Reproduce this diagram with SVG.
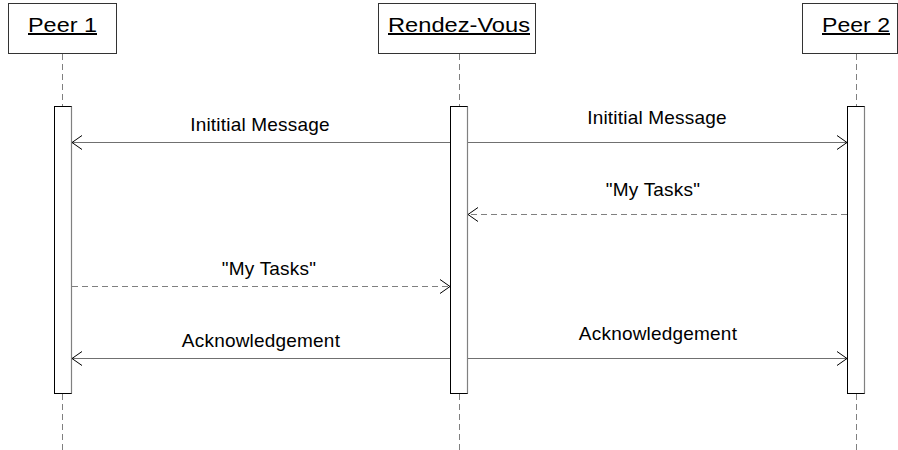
<svg xmlns="http://www.w3.org/2000/svg" width="898" height="450" viewBox="0 0 898 450">
  <style>
    .head { fill: #ffffff; stroke: #333333; stroke-width: 1; }
    .title { font-family: "Liberation Sans", Arial, sans-serif; font-size: 20px; fill: #000000; text-anchor: middle; text-decoration: underline; }
    .life { stroke: #808080; stroke-width: 1; stroke-dasharray: 6 4; fill: none; }
    .act { fill: #ffffff; stroke: #000000; stroke-width: 1; }
    .actshade { stroke: #808080; stroke-width: 1.2; }
    .msg { stroke: #707070; stroke-width: 1; fill: none; }
    .reply { stroke: #808080; stroke-width: 1; stroke-dasharray: 6 4; fill: none; }
    .label { font-family: "Liberation Sans", Arial, sans-serif; font-size: 19px; fill: #000000; text-anchor: middle; letter-spacing: 0.2px; }
  </style>
  <defs>
    <marker id="open" viewBox="0 0 10 16" refX="10" refY="8" markerWidth="10" markerHeight="16" markerUnits="userSpaceOnUse" orient="auto">
      <path d="M0,1 L10,8 L0,15" fill="none" stroke="#000000" stroke-width="1"/>
    </marker>
  </defs>

  <!-- Peer 1 -->
  <g id="peer1">
    <rect class="head" x="8.5" y="3.5" width="108" height="50"/>
    <text class="title" x="62.5" y="32" textLength="69" lengthAdjust="spacingAndGlyphs">Peer 1</text>
    <line class="life" x1="62.5" y1="54" x2="62.5" y2="106"/>
    <line class="life" x1="62.5" y1="394" x2="62.5" y2="450"/>
    <rect class="act" x="54.5" y="106.5" width="17" height="287"/>
    <line class="actshade" x1="71.5" y1="106.5" x2="71.5" y2="393.5"/>
  </g>

  <!-- Rendez-Vous -->
  <g id="rendezvous">
    <rect class="head" x="378.5" y="3.5" width="157" height="50"/>
    <text class="title" x="459" y="32" textLength="142" lengthAdjust="spacingAndGlyphs">Rendez-Vous</text>
    <line class="life" x1="459.5" y1="54" x2="459.5" y2="106"/>
    <line class="life" x1="459.5" y1="394" x2="459.5" y2="450"/>
    <rect class="act" x="450.5" y="106.5" width="17" height="287"/>
    <line class="actshade" x1="467.5" y1="106.5" x2="467.5" y2="393.5"/>
  </g>

  <!-- Peer 2 -->
  <g id="peer2">
    <rect class="head" x="802.5" y="3.5" width="95" height="50"/>
    <text class="title" x="856" y="32" textLength="68" lengthAdjust="spacingAndGlyphs">Peer 2</text>
    <line class="life" x1="856.5" y1="54" x2="856.5" y2="106"/>
    <line class="life" x1="856.5" y1="394" x2="856.5" y2="450"/>
    <rect class="act" x="847.5" y="106.5" width="17" height="287"/>
    <line class="actshade" x1="864.5" y1="106.5" x2="864.5" y2="393.5"/>
  </g>

  <!-- Messages -->
  <g id="connectors">
    <line class="msg" x1="450" y1="142.5" x2="72" y2="142.5" marker-end="url(#open)"/>
    <text class="label" x="260" y="131">Inititial Message</text>

    <line class="msg" x1="468" y1="142.5" x2="847" y2="142.5" marker-end="url(#open)"/>
    <text class="label" x="657" y="124">Inititial Message</text>

    <line class="reply" x1="847" y1="214.5" x2="468" y2="214.5" marker-end="url(#open)"/>
    <text class="label" x="653" y="196">"My Tasks"</text>

    <line class="reply" x1="72" y1="286.5" x2="450" y2="286.5" marker-end="url(#open)"/>
    <text class="label" x="269" y="275">"My Tasks"</text>

    <line class="msg" x1="450" y1="358.5" x2="72" y2="358.5" marker-end="url(#open)"/>
    <text class="label" x="261" y="347">Acknowledgement</text>

    <line class="msg" x1="468" y1="358.5" x2="847" y2="358.5" marker-end="url(#open)"/>
    <text class="label" x="658" y="340">Acknowledgement</text>
  </g>
</svg>
